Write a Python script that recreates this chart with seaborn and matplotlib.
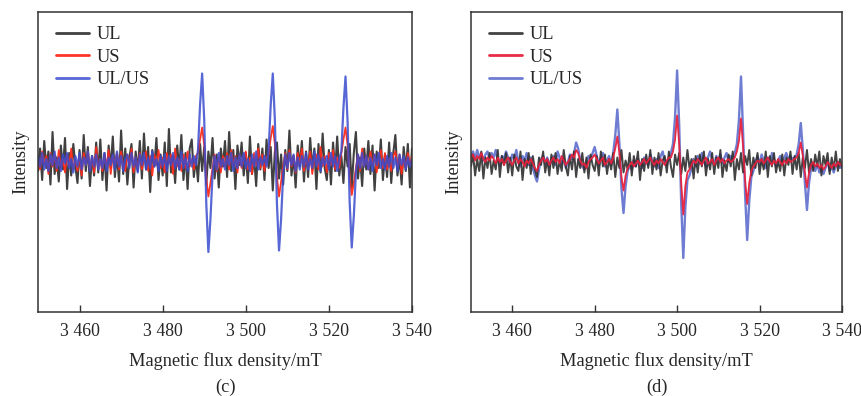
import numpy as np
import pandas as pd
import matplotlib
matplotlib.use("Agg")
import matplotlib.pyplot as plt
import seaborn as sns

# Magnetic field sampling for both spectra (mT)
field = np.linspace(3450, 3540, 181)

# Panel (c): EPR intensities (arbitrary units), one value per 0.5 mT
ul_c = [
    -6, 9, -12, 14, -4, 7, -15, 20, -8, 3,
    -13, 11, -5, 16, -18, 6, -9, 12, -3, -14,
    8, -11, 18, -6, 10, -16, 4, -9, 13, -7,
    15, -12, 6, -19, 11, -4, 17, -10, 5, -13,
    21, -8, 9, -15, 3, 12, -17, 7, -6, 14,
    -11, 19, -5, 10, -20, 8, -3, 16, -12, 5,
    -9, 13, -16, 22, -7, 4, -14, 11, -5, 18,
    -12, 6, -18, 9, 15, -10, 3, -13, 12, -6,
    10, -15, 7, -4, 16, -11, 5, -17, 9, -3,
    14, -10, 20, -6, 8, -18, 11, -2, 13, -9,
    6, -14, 17, -8, 3, -16, 12, -5, 9, -12,
    15, -4, 10, -19, 7, 13, -11, 5, -15, 8,
    -6, 21, -9, 4, -17, 11, -3, 14, -13, 7,
    -10, 16, -5, 9, -18, 12, -7, 19, -4, -12,
    8, -15, 13, -6, 17, -9, 4, -14, 10, -3,
    12, -17, 6, 20, -11, 3, -16, 9, -5, 14,
    -8, 11, -19, 7, -4, 15, -12, 5, -10, 13,
    -14, 6, 18, -9, 3, -15, 10, -6, 12, -17,
    9,
]
us_c = [
    3, -5, 7, -2, 4, -8, 6, -3, 5, -6,
    8, -4, 2, -7, 5, -3, 9, -5, 1, -6,
    4, -9, 6, -2, 7, -5, 3, -7, 10, -4,
    2, -6, 5, -3, 8, -8, 4, -1, 6, -5,
    7, -3, -6, 5, -2, 9, -7, 3, -4, 6,
    -5, 2, 7, -6, 4, -9, 5, -2, 8, -4,
    3, -7, 6, -1, 5, -8, 9, -3, 2, -6,
    5, -4, 7, -3, 2, -5, 4, 6, 15, 23,
    11, -11, -23, -14, -4, 5, -6, 3, -7, 4,
    -3, 6, -5, 8, -2, 4, -7, 5, -4, 2,
    7, -5, 3, -8, 6, -2, 9, -4, 5, -6,
    3, 5, 16, 24, 12, -10, -23, -13, -3, 6,
    -5, 8, -3, 4, -7, 6, -2, 9, -6, 3,
    -4, 7, -8, 2, 5, -5, 10, -3, 4, -7,
    6, -2, 8, -5, 3, -4, 6, 15, 23, 11,
    -10, -22, -14, -4, 5, -6, 9, -3, 4, -5,
    7, -2, 5, -7, 3, 8, -4, 6, -5, 2,
    -6, 4, 7, -3, 5, -8, 3, -4, 6, -2,
    4,
]
ulus_c = [
    4, -3, 6, -5, 2, -6, 5, -2, 7, -4,
    3, -6, 5, -1, 6, -4, 2, -7, 4, -3,
    6, -5, 3, -2, 7, -6, 4, -3, 5, -5,
    2, -4, 6, -6, 3, -2, 5, -5, 7, -3,
    4, -6, 2, 5, -4, 6, -3, 3, -7, 5,
    -2, 6, -5, 3, -4, 7, -3, 2, -6, 4,
    -3, 5, -6, 4, -2, 6, -4, 3, -5, 7,
    -4, 3, -6, 5, -3, 4, -2, 8, 38, 59,
    28, -28, -60, -38, -8, 4, -5, 6, -3, 2,
    -5, 4, -2, 6, -6, 3, -4, 5, -3, 6,
    -4, 2, -6, 5, -3, 7, -5, 3, -2, 4,
    -3, 8, 38, 59, 28, -28, -59, -38, -8, 5,
    -4, 6, -2, 5, -6, 3, -5, 4, -3, 6,
    -5, 2, -4, 7, -3, 5, -6, 3, -2, 4,
    -5, 6, -3, 4, -6, 2, 7, 36, 57, 27,
    -27, -57, -36, -7, 5, -4, 6, -3, 4, -5,
    3, -6, 5, -2, 6, -4, 2, -5, 4, -3,
    6, -4, 3, -6, 5, -2, 4, -5, 3, -3,
    2,
]

# Panel (d)
ul_d = [
    -3, 5, -9, 2, -6, 7, -11, 3, -4, 6,
    -8, 1, -5, 8, -10, 4, -2, 6, -7, 3,
    -9, 5, -3, -6, 7, -12, 2, -4, 6, -8,
    4, -5, -10, 3, -2, 7, -7, 2, -9, 5,
    -4, 6, -8, 1, -6, 8, -3, -9, 4, -5,
    7, -10, 2, -4, 6, -7, 3, -11, 5, -2,
    -6, 4, -9, 7, -3, 5, -8, 2, -5, 6,
    -10, 3, -4, 8, -7, 1, -5, 6, -9, 4,
    -3, 7, -12, 2, -6, 5, -4, 8, -8, 3,
    -5, 6, -9, 1, 4, -7, 7, -3, -10, 5,
    -2, 6, -8, 3, -6, 8, -4, 2, -11, 4,
    -7, 5, -3, 7, -9, 2, -5, 6, -8, 3,
    -4, 8, -10, 1, -6, 5, -3, 7, -12, 2,
    -5, 6, -7, 4, -2, 8, -9, 3, -4, 6,
    -8, 2, -5, 7, -10, 4, -3, 6, -7, 1,
    -6, 5, -9, 3, -2, 7, -8, 4, -5, 6,
    -10, 3, -4, 8, -7, 2, -6, 5, -3, 7,
    -9, 4, -2, 6, -8, 3, -5, 7, -6, 2,
    -4,
]
us_d = [
    3, 5, 1, 4, 2, 6, 2, 0, 3, 1,
    4, 2, -1, 3, 0, 2, -2, 1, 3, 0,
    -2, 1, 3, -1, 2, 0, -3, 1, -1, 2,
    -1, -4, -6, -2, 1, 3, 0, 2, -2, 1,
    3, 0, 2, -1, 4, 1, -2, 0, 2, 5,
    3, 8, 6, 1, -2, -1, -4, 0, 2, 3,
    5, 2, -1, 1, 3, -2, 0, 2, -1, 3,
    9, 17, 6, -10, -19, -9, -4, -2, 0, -3,
    -1, 1, -2, 0, 2, -1, 1, 3, 0, -2,
    1, -1, 2, 0, -2, 1, 3, 3, 7, 15,
    31, 12, -14, -35, -16, -7, -5, -2, 1, -1,
    2, 0, -2, 1, 3, -1, 0, 2, -2, 1,
    3, 0, 2, -1, 1, 2, 0, 1, 3, 7,
    14, 29, 10, -12, -28, -14, -6, -3, -1, 1,
    0, 2, -1, 1, 3, 0, -2, 1, -1, 2,
    0, -2, 1, -1, 2, 0, 1, 2, 3, 6,
    13, 4, -7, -17, -7, -2, 0, -3, -1, -4,
    -2, -5, -3, 0, -2, -4, -1, -3, 0, -2,
    -1,
]
ulus_d = [
    4, 7, 2, 8, 3, 6, 1, 5, 7, 2,
    6, 3, 8, 1, -2, 4, 2, 7, 3, -1,
    5, 2, 8, 0, -3, 4, 1, 6, -2, 3,
    -4, -9, -13, -5, 2, 4, -1, 3, -3, 2,
    4, -2, 7, 3, -1, 2, -4, 0, 5, 2,
    6, 13, 9, 1, -3, -5, -2, 4, 1, 6,
    10, 4, -2, 3, 6, -3, 1, 4, -2, 6,
    18, 35, 12, -18, -34, -16, -6, -2, -5, 1,
    -3, 2, -1, -4, 3, 0, -2, 5, 1, -3,
    2, -4, 4, 7, 0, -2, 3, 6, 12, 30,
    61, 25, -28, -64, -30, -12, -9, -4, 2, -3,
    4, -1, 6, 1, -3, 3, 7, 2, -2, 4,
    1, 5, -1, 3, 6, 0, 4, 2, 6, 12,
    28, 57, 20, -22, -52, -26, -10, -6, 0, 4,
    -2, 5, 1, -4, 3, -1, 6, 2, -3, 1,
    4, -2, 3, 6, 1, 4, 2, 3, 5, 12,
    26, 8, -14, -32, -14, -4, -2, -6, -1, -7,
    -3, -8, -4, 1, -6, -3, -7, -2, 0, -4,
    -2,
]

series_names = ["UL", "US", "UL/US"]
tick_values = [3460, 3480, 3500, 3520, 3540]
tick_labels = ["3 460", "3 480", "3 500", "3 520", "3 540"]
panel_tags = ["(c)", "(d)"]

sns.set_theme(style="white")
plt.rcParams["font.family"] = ["Liberation Serif", "DejaVu Serif"]

FS = 13.2

fig = plt.figure(figsize=(8.62, 3.96), dpi=100)
ax_c = fig.add_axes([38 / 862, 84 / 396, 374 / 862, 300 / 396])
ax_d = fig.add_axes([471 / 862, 84 / 396, 371 / 862, 300 / 396])

styles_c = {
    "UL": dict(color="#2b2b2b", lw=1.5, alpha=0.9),
    "US": dict(color="#ff2a1a", lw=1.3, alpha=0.95),
    "UL/US": dict(color="#3a4ccf", lw=1.6, alpha=0.85),
}
styles_d = {
    "UL": dict(color="#2e2e2e", lw=1.4, alpha=0.9),
    "US": dict(color="#e8203c", lw=1.3, alpha=0.95),
    "UL/US": dict(color="#4a5bc6", lw=1.7, alpha=0.8),
}

panels = [
    (ax_c, {"UL": ul_c, "US": us_c, "UL/US": ulus_c}, styles_c, ["UL", "US", "UL/US"]),
    (ax_d, {"UL": ul_d, "US": us_d, "UL/US": ulus_d}, styles_d, ["UL/US", "UL", "US"]),
]

for (ax, data, styles, order), tag in zip(panels, panel_tags):
    handles = {}
    for name in order:
        df = pd.DataFrame({"field": field, "intensity": data[name]})
        sns.lineplot(data=df, x="field", y="intensity", ax=ax, estimator=None,
                     sort=False, label=name, **styles[name])
        handles[name] = ax.get_lines()[-1]
    ax.set_xlim(3450, 3540)
    ax.set_ylim(-100, 100)
    ax.set_xticks(tick_values)
    ax.set_xticklabels(tick_labels, fontsize=12.8)
    ax.set_yticks([])
    ax.tick_params(axis="x", direction="in", length=5, width=1.0,
                   color="#333333", pad=8, bottom=True)
    for sp in ax.spines.values():
        sp.set_color("#333333")
        sp.set_linewidth(1.1)
    ax.set_xlabel("Magnetic flux density/mT", fontsize=FS, labelpad=9)
    ax.set_ylabel("Intensity", fontsize=FS, labelpad=6)
    leg = ax.legend([handles[n] for n in series_names], series_names,
                    loc="upper left", bbox_to_anchor=(0.02, 0.99), frameon=False,
                    fontsize=FS, handlelength=1.75, handletextpad=0.45,
                    labelspacing=0.3, borderaxespad=0.2)
    for h in leg.get_lines():
        h.set_linewidth(2.0)
    bb = ax.get_position()
    fig.text((bb.x0 + bb.x1) / 2, 9 / 396, tag, ha="center", va="center",
             fontsize=FS)

fig.savefig("out.png", dpi=100, facecolor="white")
